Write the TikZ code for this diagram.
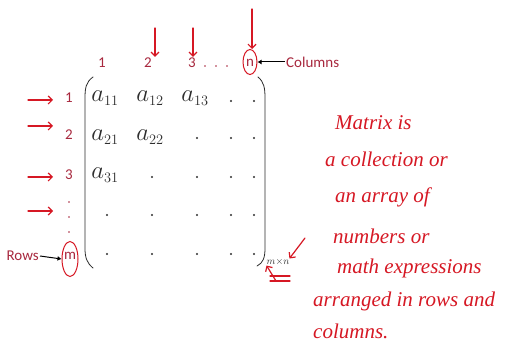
\documentclass[tikz,border=0pt]{standalone}
\usepackage{fontspec}
\setsansfont{Carlito}
\newfontfamily\notefont{Liberation Serif}
\usetikzlibrary{arrows.meta,shapes.geometric}

\definecolor{matLabel}{RGB}{168,40,62}
\definecolor{matInk}{RGB}{214,24,36}
\definecolor{matText}{RGB}{45,45,45}

\begin{document}
\begin{tikzpicture}[x=1pt,y=-1pt,
      idx/.style={font=\fontsize{15}{17}\selectfont\sffamily,
        text=matLabel, inner sep=1pt},
      tag/.style={font=\fontsize{15}{17}\selectfont\sffamily,
        text=matLabel, inner sep=1pt},
      entry/.style={font=\fontsize{28}{28}\selectfont, text=matText,
        inner sep=0pt},
      dotmark/.style={circle, fill=matText, inner sep=0pt,
        minimum size=2.4pt},
      ink/.style={draw=matInk, line width=1.2pt, line cap=round,
        -{Straight Barb[length=4pt,width=8pt]}},
      pointer/.style={draw=black, line width=1pt,
        -{Latex[length=4pt,width=5pt]}},
      ring/.style={draw=matInk, line width=1pt, ellipse, inner sep=0pt},
      note/.style={font=\fontsize{21}{22}\selectfont\itshape\notefont,
        text=matInk, anchor=west, inner sep=0pt},
      paren/.style={draw=matText, line width=.8pt, line cap=round}]
      \useasboundingbox (0,0) rectangle (513,344);
      \fill[white] (0,0) rectangle (513,344);

      % column numbers
      \node[idx] (col1) at (102,63) {1};
      \node[idx] (col2) at (148,63) {2};
      \node[idx] (col3) at (192,63) {3};
      \foreach \i/\x in {1/205,2/216,3/227}
        \node[dotmark, minimum size=1.8pt, fill=matLabel] (cdot\i) at (\x,66) {};
      \node[idx] (coln) at (250,63) {n};
      \node[ring, minimum width=14pt, minimum height=25pt] (colring) at (250,62) {};
      \node[tag, anchor=west] (columns) at (285,62) {Columns};
      \draw[pointer] (columns.west) -- (colring.east);

      % row numbers
      \node[idx] (row1) at (69,98) {1};
      \node[idx] (row2) at (69,135) {2};
      \node[idx] (row3) at (69,175) {3};
      \foreach \i/\y in {1/202,2/217,3/232}
        \node[dotmark, minimum size=1.8pt, fill=matLabel] (rdot\i) at (69,\y) {};
      \node[idx] (rowm) at (70,256) {m};
      \node[ring, minimum width=16pt, minimum height=35pt] (rowring) at (70,259) {};
      \node[tag, anchor=east] (rows) at (40,256) {Rows};
      \draw[pointer] (rows.east) -- (rowring.west);

      % entries
      \node[entry] (a11) at (105,98) {$a_{\scriptscriptstyle 11}$};
      \node[entry] (a12) at (150,98) {$a_{\scriptscriptstyle 12}$};
      \node[entry] (a13) at (195,98) {$a_{\scriptscriptstyle 13}$};
      \node[entry] (a21) at (105,137) {$a_{\scriptscriptstyle 21}$};
      \node[entry] (a22) at (150,137) {$a_{\scriptscriptstyle 22}$};
      \node[entry] (a31) at (105,175) {$a_{\scriptscriptstyle 31}$};
      \foreach \n/\x/\y in {
          14/231/101,15/254/101,
          23/197/138,24/231/138,25/254/138,
          32/152/177,33/197/177,34/231/177,35/254/177,
          41/107/215,42/152/215,43/197/215,44/231/215,45/254/215,
          51/107/254,52/152/254,53/197/254,54/231/254,55/254/254}
        \node[dotmark] (m\n) at (\x,\y) {};

      % brackets
      \draw[paren] (93,77) .. controls (86,82) and (85,88) .. (85,98)
        -- (85,248) .. controls (85,258) and (87,263) .. (93,268);
      \draw[paren] (258,77) .. controls (264,82) and (265,88) .. (265,98)
        -- (265,248) .. controls (265,258) and (263,263) .. (257,266);
      \node[font=\fontsize{10}{10}\selectfont, text=matText, inner sep=0pt]
        (order) at (278,262) {$m{\times}n$};

      % hand-drawn arrows
      \coordinate (top2) at (155,28);
      \coordinate (top3) at (193,28);
      \coordinate (topn) at (252,9);
      \draw[ink] (top2) -- (col2.north -| top2);
      \draw[ink] (top3) -- (col3.north -| top3);
      \draw[ink] (topn) -- (colring.north -| topn);
      \foreach \r/\y in {1/100,2/126,3/177,4/211}{
        \coordinate (lft\r) at (28,\y);
        \draw[ink] (lft\r) -- (53,\y);}
      \coordinate (sizeA) at (305,238);
      \draw[ink] (sizeA) -- (order.north east);
      \coordinate (sizeB) at (276,281);
      \draw[ink] (sizeB) -- (order.south west);
      \draw[matInk, line width=1.2pt, line cap=round]
        (270,276) -- (290,276) (270,281) -- (290,281);

      % note
      \node[note] (l1) at (335,123) {Matrix is};
      \node[note] (l2) at (325,159) {a collection or};
      \node[note] (l3) at (335,197) {an array of};
      \node[note] (l4) at (333,236) {numbers or};
      \node[note] (l5) at (337,268) {math expressions};
      \node[note] (l6) at (313,301) {arranged in rows and};
      \node[note] (l7) at (313,331) {columns.};
    \end{tikzpicture}
\end{document}
